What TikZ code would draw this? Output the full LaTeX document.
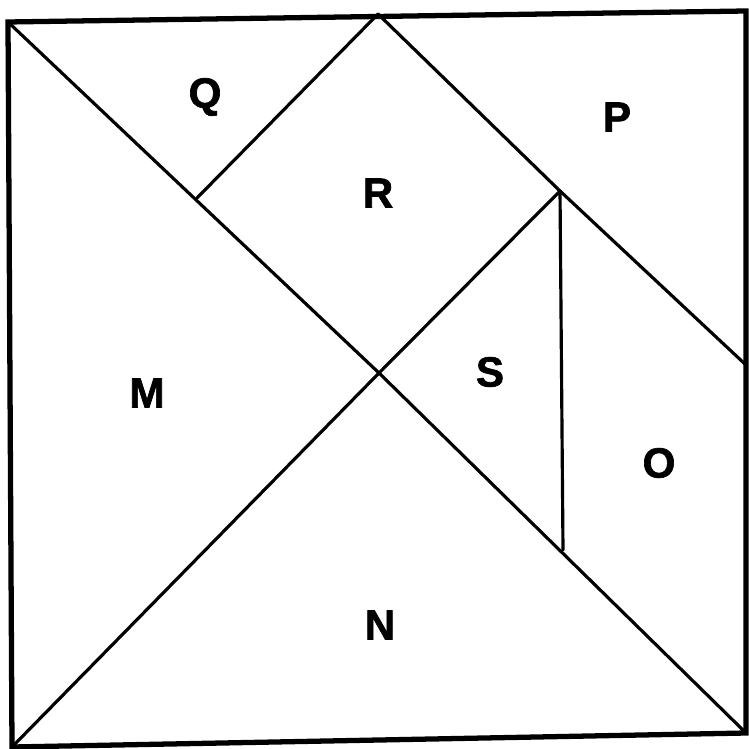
\documentclass[tikz,border=0pt]{standalone}
\usepackage{fontspec}
\setmainfont{Liberation Sans}
\newfontfamily\heavy{Liberation Sans Bold}[FakeBold=1.6]
\begin{document}
\begin{tikzpicture}[x=0.02cm,y=-0.02cm,
  edge/.style={line width=1.8pt,line cap=round,line join=round},
  frame/.style={line width=3pt,line join=miter},
  lab/.style={font=\fontsize{24}{26}\heavy,inner sep=0pt}]
\useasboundingbox (0,0) rectangle (748,749);
\coordinate (tl) at (8,22);
\coordinate (tr) at (746,11);
\coordinate (br) at (746,733);
\coordinate (bl) at (12,747);
\coordinate (tm) at (378,14);
\coordinate (c) at (379,373);
\coordinate (rp) at (560,191);
\coordinate (re) at (746,365);
\coordinate (lp) at (197,198);
\coordinate (vb) at (563,550);
\draw[frame] (tl) -- (tr) -- (br) -- (bl) -- cycle;
\draw[edge] (tl) -- (c) -- (br);
\draw[edge] (bl) -- (c) -- (rp);
\draw[edge] (tm) -- (lp);
\draw[edge] (tm) -- (rp) -- (re);
\draw[edge] (rp) -- (vb);
\node[lab] (Q) at (205,97) {Q};
\node[lab] (P) at (617,117) {P};
\node[lab] (R) at (378,193) {R};
\node[lab] (S) at (490,372) {S};
\node[lab] (M) at (147,393) {M};
\node[lab] (O) at (659,463) {O};
\node[lab] (N) at (380,625) {N};
\end{tikzpicture}
\end{document}
